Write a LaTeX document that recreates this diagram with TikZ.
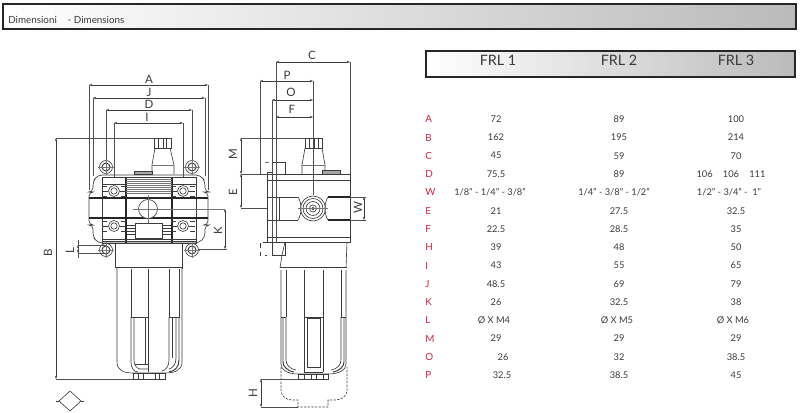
\documentclass[tikz,border=0pt]{standalone}
\usepackage{fontspec}
\setmainfont{Lato}
\usepackage{tikz}
\usetikzlibrary{arrows.meta}
\definecolor{frl_red}{HTML}{D2233F}
\definecolor{frl_text}{HTML}{3A3A3A}
\definecolor{frl_line}{HTML}{3C3C3C}
\tikzset{
    part/.style={draw=frl_line, line width=0.45pt},
    heavy/.style={draw=black!85, line width=0.8pt},
    fine/.style={draw=frl_line!70, line width=0.3pt},
    dim/.style={draw=frl_line, line width=0.35pt, <->, >={Stealth[length=2.2pt,width=1.6pt]}},
    ext/.style={draw=frl_line!90, line width=0.35pt},
    dimlabel/.style={text=frl_text, font=\fontsize{8.2}{9}\selectfont, inner sep=0pt},
    cell/.style={text=frl_text, font=\fontsize{6.6}{8}\selectfont, inner sep=0pt},
    rowname/.style={text=frl_red, font=\fontsize{7}{8}\selectfont, inner sep=0pt, anchor=west},
    headbar/.style={draw=black!85, line width=1.1pt, left color=white, right color=black!27},
    headname/.style={text=frl_text, font=\fontsize{10.2}{12}\selectfont, inner sep=0pt},
}

\begin{document}
\begin{tikzpicture}[x=0.025cm, y=-0.025cm]
    \useasboundingbox (0, 0) rectangle (800, 413);

    % title bars
    \path [headbar] (3, 4) rectangle (796, 29);
    \node [cell, anchor=west, font=\fontsize{7}{8}\selectfont] (title) at (8, 20) {Dimensioni\hspace{1.1em}- Dimensions};
    \path [headbar] (426, 51) rectangle (795, 77);
    \node [headname] (frl1) at (498, 60) {FRL 1};
    \node [headname] (frl2) at (619, 60) {FRL 2};
    \node [headname] (frl3) at (736, 60) {FRL 3};

    % table
    \foreach \rowid/\rowy/\xa/\va/\xb/\vb/\xc/\vc in {
        A/119/496/72/619/89/736/100,
        B/137.5/496/162/619/195/736/214,
        C/155.7/496/45/619/59/736/70,
        D/174/496/75.5/619/89/731/{106\hspace{1.1em}106\hspace{1.1em}111},
        W/192.3/490/{1/8" - 1/4" - 3/8"}/614/{1/4" - 3/8" - 1/2"}/729/{1/2" - 3/4" -\hspace{0.5em}1"},
        E/210.7/496/21/619/27.5/736/32.5,
        F/229/496/22.5/619/28.5/736/35,
        H/247.3/496/39/619/48/736/50,
        I/265.5/496/43/619/55/736/65,
        J/283.8/496/48.5/619/69/736/79,
        K/302/496/26/619/32.5/736/38,
        L/320.3/494/{Ø X M4}/617/{Ø X M5}/733/{Ø X M6},
        M/338.5/496/29/619/29/736/29,
        O/356.8/503/26/619/32/736/38.5,
        P/375/502/32.5/619/38.5/736/45}
    {
        \node [rowname] (row\rowid) at (425, \rowy) {\rowid};
        \node [cell] (a\rowid) at (\xa, \rowy) {\va};
        \node [cell] (b\rowid) at (\xb, \rowy) {\vb};
        \node [cell] (c\rowid) at (\xc, \rowy) {\vc};
    }

    % front view: body
    \draw [part, rounded corners=3] (89, 225) -- (89, 192) -- (93, 192) -- (93, 181) -- (98, 175) -- (200, 175) -- (205, 181) -- (205, 192) -- (208, 192) -- (208, 225) -- (205, 225) -- (205, 237) -- (199, 243) -- (98, 243) -- (93, 237) -- (93, 225) -- cycle;
    \draw [part] (102, 177) rectangle (196, 243);
    \draw [heavy] (89, 198) -- (208, 198) (89, 218) -- (208, 218);
    \draw [heavy] (126, 177) -- (126, 243) (172, 177) -- (172, 243);
    \foreach \stripey in {177, 179, 181, 183, 185, 187, 189, 191, 193}
        \draw [fine] (126, \stripey) -- (172, \stripey);
    \draw [part] (102, 177) -- (196, 177) (102, 184) -- (126, 184) (172, 184) -- (196, 184);
    \foreach \stripey in {239, 241}
        \draw [part] (102, \stripey) -- (196, \stripey);
    \draw [part] (135, 223) rectangle (162, 238);
    \foreach \bossx/\bossy in {114/191, 183/191, 114/226, 183/226} {
        \draw [part] (\bossx, \bossy) circle [radius=5.5];
        \draw [part] (\bossx, \bossy) circle [radius=3.2];
        \draw [part] (\bossx-12, \bossy-5) -- (\bossx-7, \bossy-5) (\bossx-12, \bossy) -- (\bossx-6, \bossy) (\bossx-12, \bossy+5) -- (\bossx-7, \bossy+5);
        \draw [part] (\bossx+7, \bossy-5) -- (\bossx+12, \bossy-5) (\bossx+6, \bossy) -- (\bossx+12, \bossy) (\bossx+7, \bossy+5) -- (\bossx+12, \bossy+5);
    }
    \foreach \finy in {225, 228, 231, 234}
        \draw [part] (127, \finy) -- (135, \finy) (162, \finy) -- (171, \finy);
    \draw [fill=white, part] (148, 209) circle [radius=9.5];
    \draw [fine] (133, 209) -- (225, 209) (148, 195) -- (148, 223);

    % front view: mounting ears
    \foreach \earx/\eary in {106/167, 192/167, 106/250, 192/250} {
        \draw [part, fill=white] (\earx, \eary) circle [radius=6.5];
        \draw [part, line width=0.7pt] (\earx, \eary) circle [radius=4];
        \draw [fine] (\earx-8, \eary) -- (\earx+8, \eary) (\earx, \eary-8) -- (\earx, \eary+8);
    }

    % front view: connector
    \draw [part] (154, 138) rectangle (171, 148);
    \draw [part] (158, 138) -- (158, 148) (163, 138) -- (163, 148) (166, 138) -- (166, 148);
    \draw [part] (155, 148) -- (152, 165) -- (152, 174) (170, 148) -- (174, 165) -- (174, 174);
    \draw [fine] (152, 165) -- (174, 165);
    \draw [part, fill=black!35] (134, 171) rectangle (152, 174);

    % front view: bowl
    \draw [part] (115, 243) -- (115, 268) -- (182, 268) -- (182, 243);
    \draw [part, double distance=0.5pt] (115, 268) -- (182, 268);
    \draw [part] (117, 268) -- (117, 362) .. controls (117, 370) and (123, 373) .. (133, 373) -- (165, 373) .. controls (175, 373) and (182, 370) .. (182, 362) -- (182, 268);
    \draw [part] (131, 269) -- (131, 317) (148, 269) -- (148, 317) (169, 269) -- (169, 317) (179, 269) -- (179, 317);
    \draw [part, line width=0.7pt] (131, 317) -- (148, 317) (169, 317) -- (180, 317);
    \draw [part] (131, 317) -- (131, 362) .. controls (131, 368) and (134, 372) .. (138, 372);
    \draw [part] (134, 318) -- (134, 360) .. controls (134, 365) and (136, 368) .. (140, 369) -- (148, 369);
    \draw [part, line width=0.7pt] (148, 317) -- (148, 372);
    \draw [part, line width=0.7pt] (145, 318) -- (145, 364);
    \draw [part] (135, 364) -- (148, 364);
    \draw [part] (169, 317) -- (169, 360) .. controls (169, 366) and (166, 370) .. (162, 371);
    \draw [part, line width=0.7pt] (179, 317) -- (179, 360) .. controls (179, 367) and (175, 371) .. (169, 372);
    \draw [part] (176, 318) -- (176, 358) .. controls (176, 364) and (173, 368) .. (169, 369);
    \draw [part] (172, 318) -- (172, 358);
    \draw [part] (133, 373) rectangle (165, 379);
    \draw [part] (138, 373) -- (138, 379) (143, 373) -- (143, 379) (155, 373) -- (155, 379) (159, 373) -- (159, 379);

    % front view: dimensions
    \draw [dim] (89, 85) -- (208, 85);
    \draw [dim] (93, 98) -- (205, 98);
    \draw [dim] (106, 110) -- (192, 110);
    \draw [dim] (114, 123) -- (183, 123);
    \draw [ext] (89, 85) -- (89, 190) (208, 85) -- (208, 190);
    \draw [ext] (93, 98) -- (93, 176) (205, 98) -- (205, 176);
    \draw [ext] (106, 110) -- (106, 160) (192, 110) -- (192, 160);
    \draw [ext] (114, 123) -- (114, 177) (183, 123) -- (183, 177);
    \draw [dim] (56, 138) -- (56, 379);
    \draw [ext] (56, 138) -- (154, 138) (56, 379) -- (133, 379);
    \draw [dim] (225, 209) -- (225, 249);
    \draw [ext] (198, 249) -- (227, 249);
    \draw [dim] (78, 245) -- (78, 253);
    \draw [ext] (78, 240) -- (78, 258) (78, 245) -- (106, 245) (78, 253) -- (106, 253);
    \node [dimlabel] (lblA) at (149, 79) {A};
    \node [dimlabel] (lblJ) at (149, 92) {J};
    \node [dimlabel] (lblD) at (149, 104.5) {D};
    \node [dimlabel] (lblI) at (147, 117) {I};
    \node [dimlabel, rotate=90] (lblB) at (48, 253) {B};
    \node [dimlabel, rotate=90] (lblL) at (70, 251) {L};
    \node [dimlabel, rotate=90] (lblK) at (218, 231) {K};

    % valve symbol
    \draw [part] (70, 391) -- (81, 401) -- (70, 411) -- (59, 401) -- cycle;
    \draw [part] (56, 401) -- (59, 401) (81, 401) -- (84, 401);

    % side view: body
    \draw [part] (267, 174) rectangle (350, 242);
    \draw [part] (267, 180) -- (350, 180) (267, 237) -- (350, 237);
    \draw [part] (276, 172) -- (267, 172) -- (267, 174);
    \draw [part, fill=white] (272, 162) rectangle (285, 174);
    \draw [fine, dashed] (265, 162) -- (272, 162);
    \draw [part, fill=white] (272, 242) rectangle (285, 255);
    \draw [part, dashed] (267, 242) -- (260, 242) -- (260, 255) -- (267, 255);
    \draw [part] (267, 197) -- (298, 197) (267, 220) -- (298, 220);
    \draw [part] (267, 197) -- (267, 220) (279, 197) -- (279, 220);
    \draw [part] (298, 197) .. controls (302, 203) and (302, 214) .. (298, 220);
    \draw [part] (328, 197) .. controls (324, 203) and (324, 214) .. (328, 220);
    \draw [heavy] (328, 197) -- (350, 197) (328, 220) -- (350, 220);
    \draw [part] (350, 197) -- (350, 220);
    \foreach \portr in {12.5, 10, 7, 3.5, 1.5}
        \draw [part] (313, 208.5) circle [radius=\portr];
    \draw [fine] (298, 208.5) -- (328, 208.5);

    % side view: connector
    \draw [part] (305, 138) rectangle (322, 148);
    \draw [part] (309, 138) -- (309, 148) (314, 138) -- (314, 148) (318, 138) -- (318, 148);
    \draw [part] (305, 148) -- (302, 165) -- (302, 174) (322, 148) -- (325, 165) -- (325, 174);
    \draw [fine] (302, 165) -- (325, 165);
    \draw [part, fill=black!35] (322, 170) rectangle (340, 174);

    % side view: bowl
    \draw [part] (285, 242) -- (282, 255) -- (280, 268) (347, 242) -- (346, 268);
    \draw [part, double distance=0.5pt] (280, 268) -- (347, 268);
    \draw [part] (281, 270) -- (281, 364) .. controls (281, 370) and (288, 374) .. (298, 374) -- (328, 374) .. controls (339, 374) and (346, 370) .. (346, 364) -- (346, 270);
    \draw [part] (286, 270) -- (286, 317) (304, 270) -- (304, 372) (323, 270) -- (323, 372) (341, 270) -- (341, 317);
    \draw [part, line width=0.7pt] (281, 317) -- (286, 317) (304, 317) -- (323, 317) (341, 317) -- (346, 317);
    \draw [part, line width=0.7pt] (307, 318) rectangle (320, 367);
    \draw [part] (304, 372) -- (323, 372);
    \draw [part, line width=0.7pt] (283, 318) -- (283, 362) .. controls (283, 367) and (288, 371) .. (294, 372);
    \draw [part] (286, 317) -- (286, 360) .. controls (286, 365) and (290, 369) .. (296, 370);
    \draw [part, line width=0.7pt] (344, 318) -- (344, 362) .. controls (344, 367) and (339, 371) .. (333, 372);
    \draw [part] (341, 317) -- (341, 360) .. controls (341, 365) and (337, 369) .. (331, 370);
    \draw [part] (298, 374) rectangle (328, 379);
    \draw [part] (304, 374) -- (304, 379) (311, 374) -- (311, 379) (316, 374) -- (316, 379) (323, 374) -- (323, 379);
    \draw [part, dashed, dash pattern=on 1.6pt off 1pt] (281, 367) -- (281, 390) .. controls (281, 396) and (286, 400) .. (292, 400) -- (298, 400) -- (298, 407) -- (328, 407) -- (328, 400) -- (335, 400) .. controls (342, 400) and (347, 396) .. (347, 390) -- (347, 367);

    % side view: dimensions
    \draw [dim] (276, 62) -- (350, 62);
    \draw [dim] (260, 81) -- (313, 81);
    \draw [dim] (272, 100) -- (313, 100);
    \draw [dim] (276, 117) -- (313, 117);
    \draw [ext] (276, 62) -- (276, 242) (350, 62) -- (350, 174);
    \draw [ext] (260, 81) -- (260, 174);
    \draw [ext] (272, 100) -- (272, 242);
    \draw [ext] (313, 81) -- (313, 195);
    \draw [dim] (241, 138) -- (241, 174);
    \draw [dim] (241, 174) -- (241, 208);
    \draw [ext] (241, 138) -- (305, 138) (241, 174) -- (267, 174) (241, 208) -- (267, 208);
    \draw [dim] (364, 197) -- (364, 220);
    \draw [ext] (350, 197) -- (366, 197) (350, 220) -- (366, 220);
    \draw [dim] (261, 379) -- (261, 407);
    \draw [ext] (261, 379) -- (298, 379) (261, 407) -- (298, 407);
    \node [dimlabel] (lblC) at (312, 55) {C};
    \node [dimlabel] (lblP) at (287, 75) {P};
    \node [dimlabel] (lblO) at (291, 92) {O};
    \node [dimlabel] (lblF) at (292, 109.5) {F};
    \node [dimlabel, rotate=90] (lblM) at (233, 154) {M};
    \node [dimlabel, rotate=90] (lblE) at (233, 192) {E};
    \node [dimlabel, rotate=90] (lblW) at (358, 208) {W};
    \node [dimlabel, rotate=90] (lblH) at (253, 393) {H};
\end{tikzpicture}
\end{document}
